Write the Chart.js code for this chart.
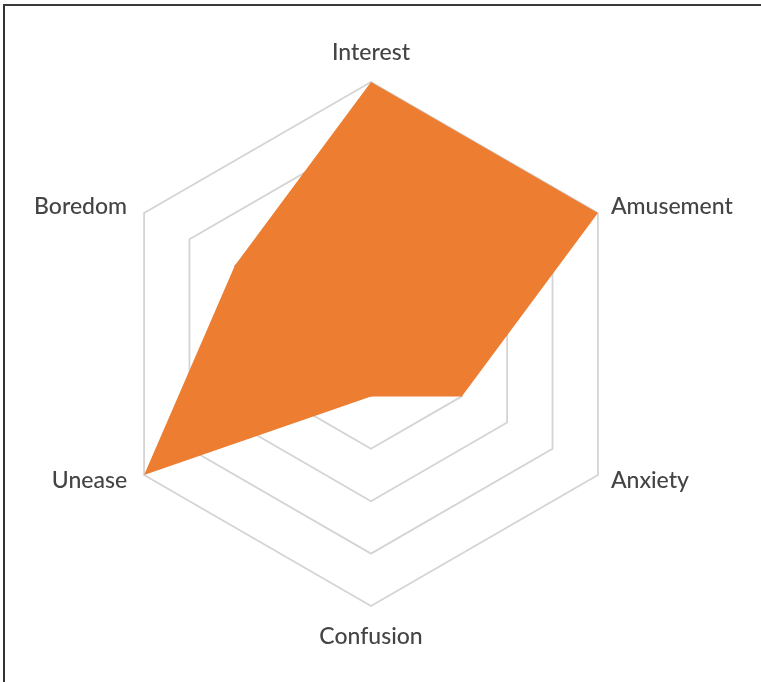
<!DOCTYPE html>
<html>
<head>
<meta charset="utf-8">
<script src="https://cdn.jsdelivr.net/npm/chart.js@4/dist/chart.umd.min.js"></script>
<style>
    html, body { margin: 0; padding: 0; background: #fff; overflow: hidden; }
    #frame {
        position: absolute; left: 3px; top: 4px; right: 0; bottom: 0;
        border-left: 2px solid #333; border-top: 2px solid #3a3a3a;
    }
    #radar { position: absolute; left: 0; top: 0; }
</style>
</head>
<body>
<div id="frame"></div>
<canvas id="radar" width="761" height="682"></canvas>
<script>
const emotions = ['Interest', 'Amusement', 'Anxiety', 'Confusion', 'Unease', 'Boredom'];
const scores = [5, 5, 2, 1, 5, 3];
const scaleMax = 5;

// labels drawn next to the outer ring vertices, placed the way the spreadsheet does it
const outerLabels = {
    id: 'outerLabels',
    afterDraw(chart) {
        const scale = chart.scales.r;
        const ctx = chart.ctx;
        ctx.save();
        ctx.font = '500 23px Lato';
        ctx.fillStyle = '#444444';
        ctx.textBaseline = 'middle';
        emotions.forEach((label, i) => {
            const p = scale.getPointPosition(i, scale.drawingArea);
            const dx = p.x - scale.xCenter;
            const dy = p.y - scale.yCenter;
            let x = p.x, y = p.y;
            if (Math.abs(dx) < 1) {
                ctx.textAlign = 'center';
                y += dy < 0 ? -29 : 31;
            } else {
                ctx.textAlign = dx > 0 ? 'left' : 'right';
                x += dx > 0 ? 13 : -17;
                y += dy < 0 ? -6 : 6;
            }
            ctx.fillText(label, x, y);
        });
        ctx.restore();
    }
};

window.onload = () => {
    const ctx = document.getElementById('radar');
    new Chart(ctx, {
        type: 'radar',
        data: {
            labels: emotions,
            datasets: [{
                data: scores,
                backgroundColor: '#ED7D31',
                borderWidth: 0,
                pointRadius: 0,
                fill: true
            }]
        },
        options: {
            responsive: false,
            animation: false,
            layout: {
                padding: { left: 108, right: 127, top: 82, bottom: 75 }
            },
            plugins: {
                legend: { display: false },
                tooltip: { enabled: false }
            },
            scales: {
                r: {
                    min: 0,
                    max: scaleMax,
                    ticks: { display: false, stepSize: 1 },
                    grid: { color: '#d4d4d4', lineWidth: 1.8 },
                    angleLines: { display: false },
                    pointLabels: { display: false }
                }
            }
        },
        plugins: [outerLabels]
    });
};
</script>
</body>
</html>
